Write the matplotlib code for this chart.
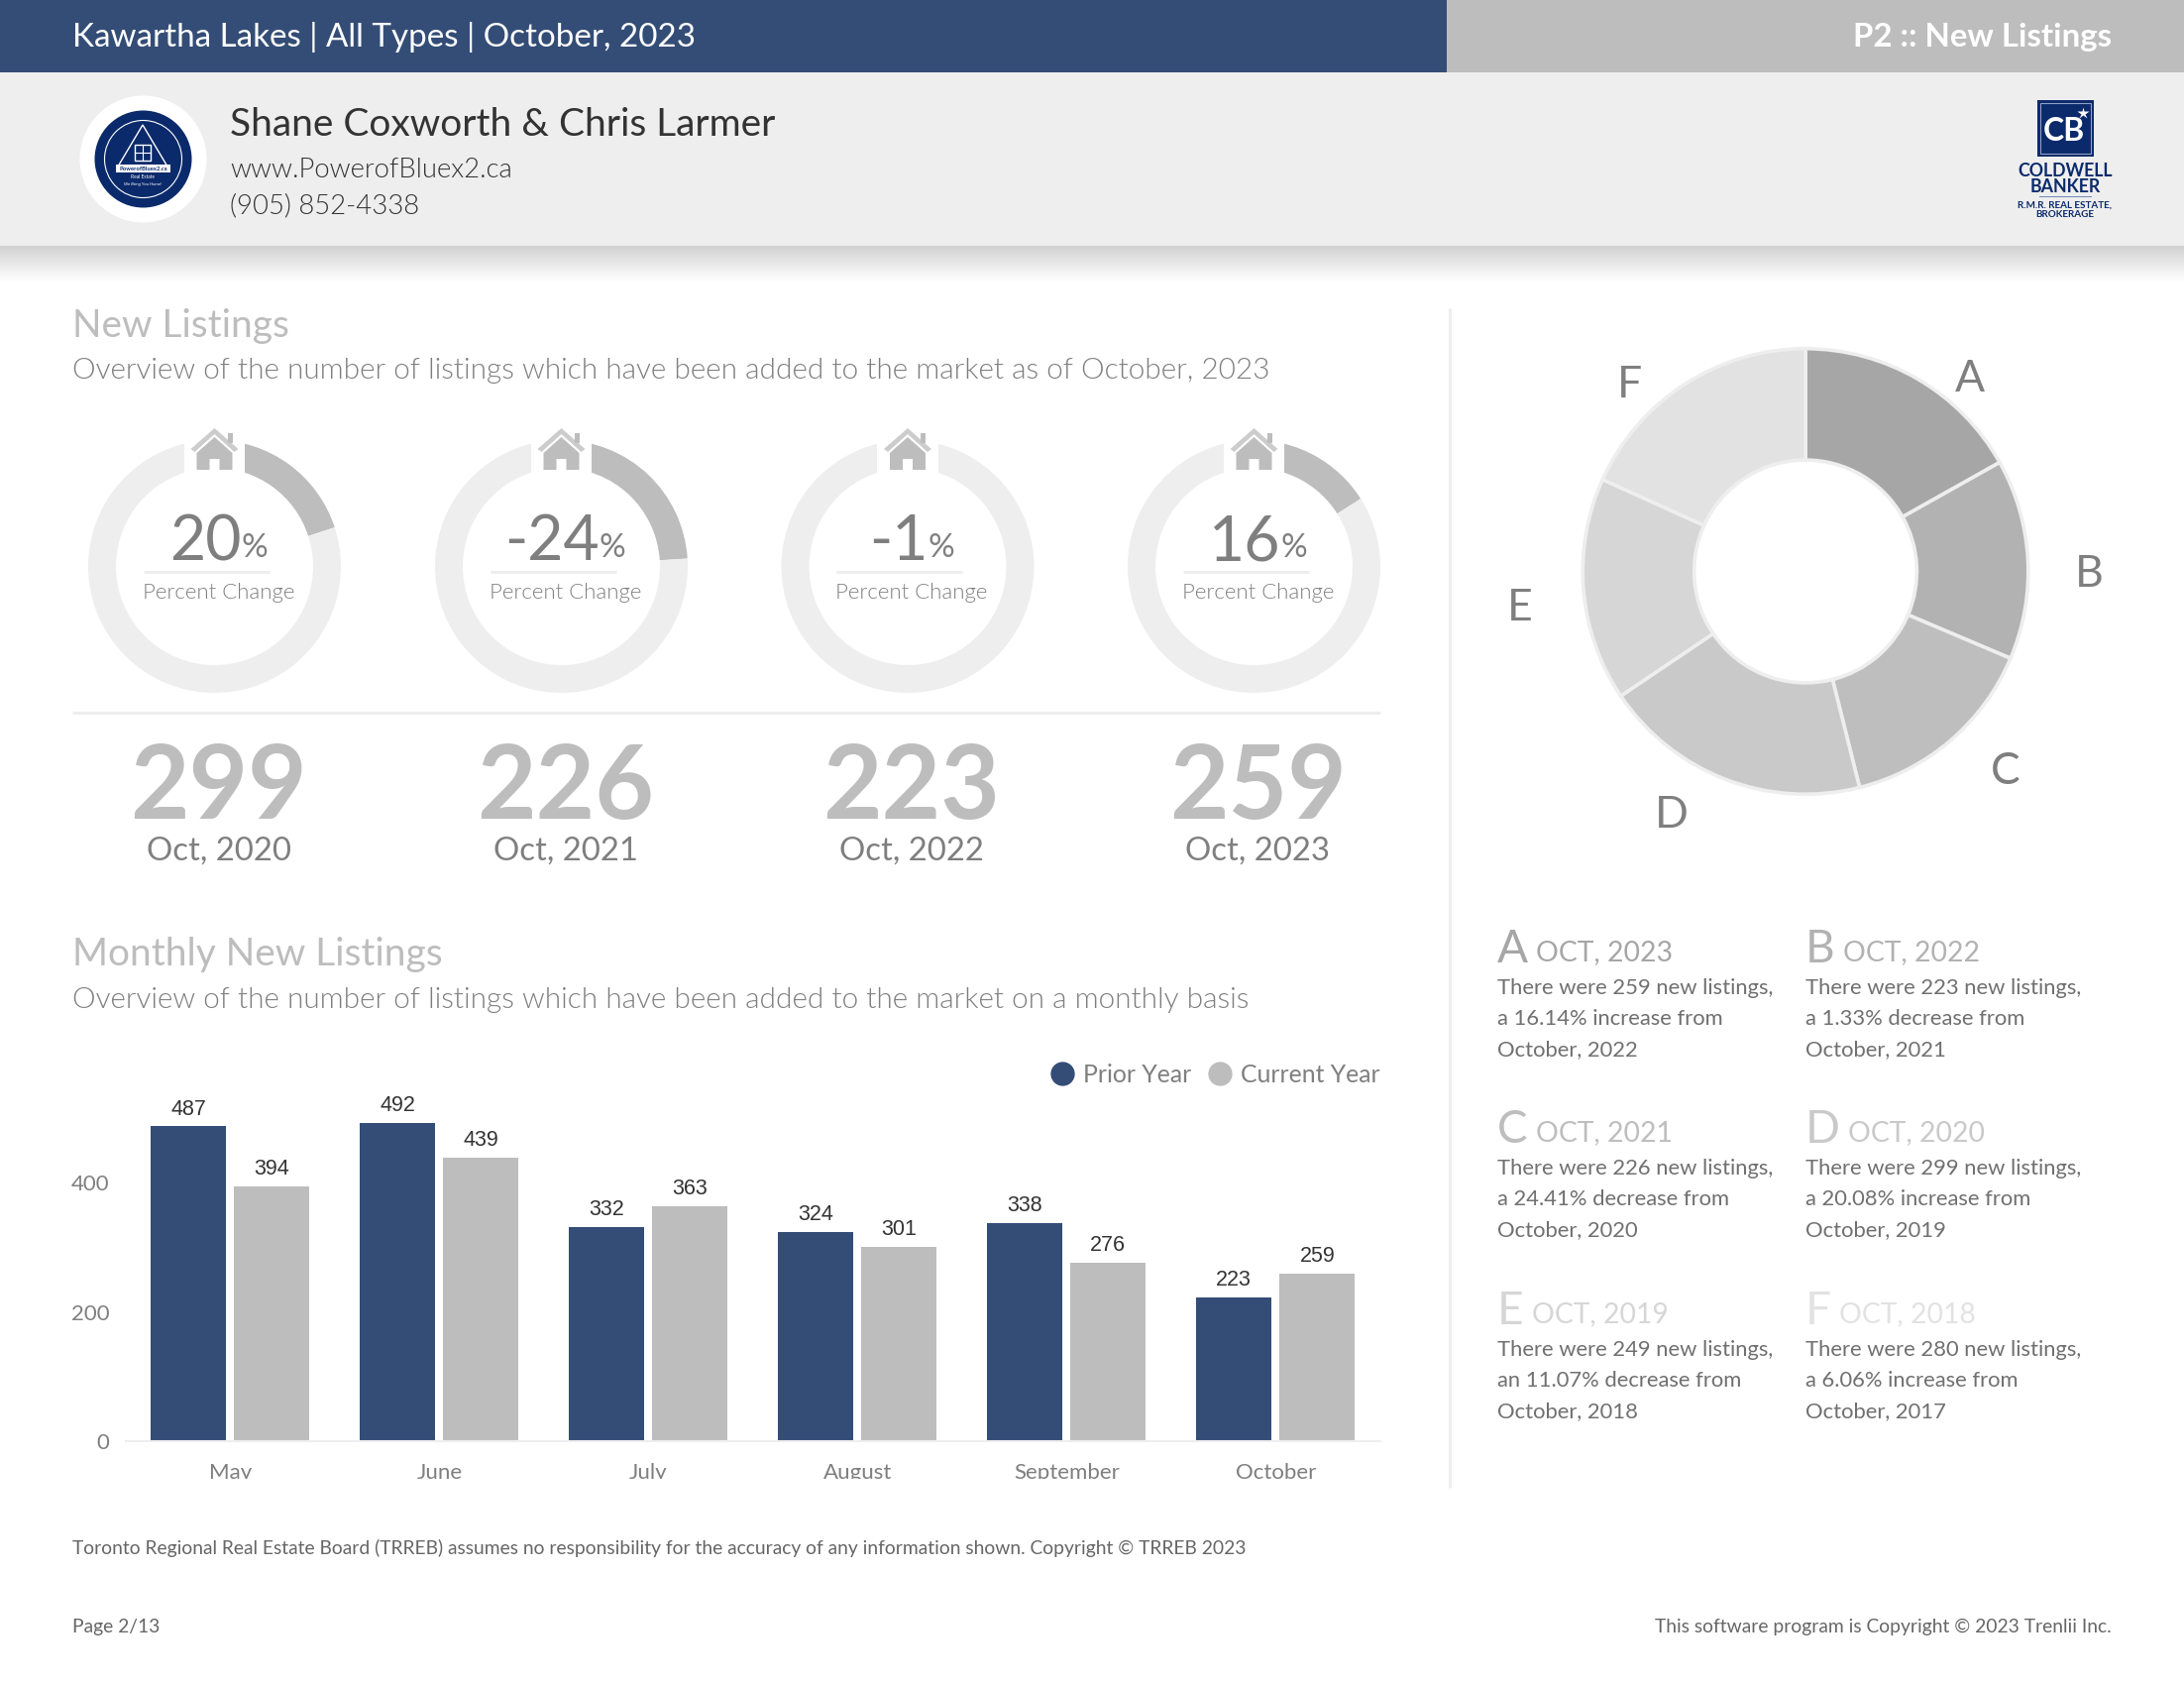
import matplotlib
matplotlib.use('Agg')
import matplotlib.pyplot as plt
import numpy as np
from matplotlib.lines import Line2D
from matplotlib.patches import Rectangle, Circle, Polygon

plt.rcParams['font.family'] = ['Lato', 'DejaVu Sans']

W, H = 2204, 1700

# Data
months = ['May', 'June', 'July', 'August', 'September', 'October']
prior_year = [487, 492, 332, 324, 338, 223]
current_year = [394, 439, 363, 301, 276, 259]

gauge_pct = [20, -24, -1, 16]
gauge_counts = [299, 226, 223, 259]
gauge_dates = ['Oct, 2020', 'Oct, 2021', 'Oct, 2022', 'Oct, 2023']

donut_letters = ['A', 'B', 'C', 'D', 'E', 'F']
donut_counts = [259, 223, 226, 299, 249, 280]
donut_colors = ['#a6a6a6', '#b2b2b2', '#bebebe', '#c9c9c9', '#d6d6d6', '#e2e2e2']
donut_dates = ['OCT, 2023', 'OCT, 2022', 'OCT, 2021', 'OCT, 2020', 'OCT, 2019', 'OCT, 2018']
donut_notes = [
    ['There were 259 new listings,', 'a 16.14% increase from', 'October, 2022'],
    ['There were 223 new listings,', 'a 1.33% decrease from', 'October, 2021'],
    ['There were 226 new listings,', 'a 24.41% decrease from', 'October, 2020'],
    ['There were 299 new listings,', 'a 20.08% increase from', 'October, 2019'],
    ['There were 249 new listings,', 'an 11.07% decrease from', 'October, 2018'],
    ['There were 280 new listings,', 'a 6.06% increase from', 'October, 2017'],
]

BLUE = '#334d76'
GREY = '#bdbdbd'
LIGHT = '#eeeeee'
TEXT = '#7f7f7f'
NAVY = '#0b2a6b'
THIN = 300  # Lato Light

fig = plt.figure(figsize=(W / 100, H / 100), dpi=100, facecolor='white')
renderer = fig.canvas.get_renderer()


def px_axes(x0, y0, x1, y1, **kw):
    # axes from pixel box, y measured from the top
    return fig.add_axes([x0 / W, 1 - y1 / H, (x1 - x0) / W, (y1 - y0) / H], **kw)


bg = px_axes(0, 0, W, H)
bg.axis('off')

# Header bands
bg.add_patch(Rectangle((0, 0), 1460, 73, fc=BLUE, ec='none'))
bg.add_patch(Rectangle((1460, 0), W - 1460, 73, fc=GREY, ec='none'))
bg.add_patch(Rectangle((0, 73), W, 175, fc=LIGHT, ec='none'))
shadow = np.linspace(0, 1, 40).reshape(-1, 1)
bg.imshow(shadow, extent=(0, W, 284, 248), cmap='gray', vmin=-4.5, vmax=1, aspect='auto', zorder=1)
bg.set_xlim(0, W)
bg.set_ylim(H, 0)

bg.text(73, 37, 'Kawartha Lakes | All Types | October, 2023', color='white', fontsize=23.9, va='center')
bg.text(2131, 37, 'P2 :: New Listings', color='white', fontsize=23.8, va='center', ha='right', fontweight='bold')

# Agent logo
bg.add_patch(Circle((144.5, 160.5), 64, fc='white', ec='none'))
bg.add_patch(Circle((144.5, 160.5), 49, fc=NAVY, ec='none'))
bg.add_patch(Circle((144.5, 160.5), 39, fc='none', ec='white', lw=0.8))
bg.add_patch(Polygon([[144, 126], [119, 168], [169, 168]], closed=True, fc='none', ec='white', lw=1))
bg.add_patch(Rectangle((136, 146), 16, 16, fc='none', ec='white', lw=1))
bg.plot([144, 144], [146, 162], color='white', lw=0.8)
bg.plot([136, 152], [154, 154], color='white', lw=0.8)
bg.add_patch(Rectangle((117, 166), 55, 8, fc='white', ec='none'))
bg.text(144.5, 170, 'PowerofBluex2.ca', fontsize=4.2, color=NAVY, ha='center', va='center', fontweight='bold')
bg.text(144.5, 178, 'Real Estate', fontsize=3.5, color='white', ha='center', va='center')
bg.text(144.5, 186, 'We Bring You Home!', fontsize=3.2, color='white', ha='center', va='center', style='italic')

bg.text(232, 126, 'Shane Coxworth & Chris Larmer', color='#333333', fontsize=28, va='center')
bg.text(232, 171, 'www.PowerofBluex2.ca', color='#333333', fontsize=19.8, va='center', fontweight=THIN)
bg.text(232, 208, '(905) 852-4338', color='#333333', fontsize=19.8, va='center', fontweight=THIN)

# Brokerage logo
bg.add_patch(Rectangle((2056, 101), 57, 57, fc=NAVY, ec='none'))
bg.add_patch(Rectangle((2059, 104), 51, 51, fc='none', ec='#8fa0c4', lw=0.8))
bg.text(2083, 132, 'CB', color='white', fontsize=23, ha='center', va='center', fontweight='bold')
bg.plot([2102], [114], marker='*', ms=9, color='white', mec='none')
bg.text(2084, 172, 'COLDWELL', color=NAVY, fontsize=12.8, ha='center', va='center', fontweight='bold')
bg.text(2084, 188, 'BANKER', color=NAVY, fontsize=12.8, ha='center', va='center', fontweight='bold')
bg.plot([2058, 2110], [198, 198], color='#6f86b8', lw=0.7)
bg.text(2084, 207, 'R.M.R. REAL ESTATE,', color=NAVY, fontsize=7.1, ha='center', va='center', fontweight='bold')
bg.text(2084, 216, 'BROKERAGE', color=NAVY, fontsize=7.1, ha='center', va='center', fontweight='bold')

# Section headings
bg.text(73, 329, 'New Listings', color=GREY, fontsize=28, va='center')
bg.text(73, 374, 'Overview of the number of listings which have been added to the market as of October, 2023',
        color=TEXT, fontsize=21.4, va='center', fontweight=THIN)
bg.text(73, 963, 'Monthly New Listings', color=GREY, fontsize=28, va='center')
bg.text(73, 1009, 'Overview of the number of listings which have been added to the market on a monthly basis',
        color=TEXT, fontsize=21.4, va='center', fontweight=THIN)

bg.plot([73, 1393], [719, 719], color=LIGHT, lw=2.2, solid_capstyle='butt')
bg.plot([1462.5, 1462.5], [311, 1501], color=LIGHT, lw=2.2, solid_capstyle='butt')

# Gauges
gauge_x = [216.5, 566.5, 916, 1265.5]
gauge_y = 571.5
gauge_r = 127.5
for cx, pct, count, date in zip(gauge_x, gauge_pct, gauge_counts, gauge_dates):
    gax = px_axes(cx - gauge_r, gauge_y - gauge_r, cx + gauge_r, gauge_y + gauge_r)
    gax.pie([abs(pct), 100 - abs(pct)], colors=[GREY, LIGHT], startangle=90, counterclock=False, radius=1,
            wedgeprops={'width': 0.22, 'edgecolor': 'none'})
    gax.set_xlim(-1, 1)
    gax.set_ylim(-1, 1)
    gax.add_patch(Rectangle((-0.243, 0.6), 0.486, 0.5, fc='white', ec='none', clip_on=False))
    gax.patch.set_alpha(0)

    # house icon
    bg.add_patch(Polygon([[cx, 432], [cx - 24, 453], [cx - 20, 456], [cx, 438], [cx + 20, 456], [cx + 24, 453]],
                         closed=True, fc='#cccccc', ec='none', zorder=5))
    bg.add_patch(Rectangle((cx + 13, 437), 5, 10, fc=GREY, ec='none', zorder=5))
    bg.add_patch(Polygon([[cx, 441], [cx - 18, 457], [cx - 18, 474], [cx - 5, 474], [cx - 5, 463], [cx + 5, 463],
                          [cx + 5, 474], [cx + 18, 474], [cx + 18, 457]],
                         closed=True, fc=GREY, ec='none', zorder=5))

    # number and small percent sign centred together
    num = bg.text(cx, 547, f'{pct}', color=TEXT, fontsize=45, va='center', ha='left', zorder=6)
    sign = bg.text(cx, 553, '%', color=TEXT, fontsize=24, va='center', ha='left', zorder=6)
    num_w = num.get_window_extent(renderer).width
    sign_w = sign.get_window_extent(renderer).width
    start = cx + 4 - (num_w + sign_w) / 2
    num.set_x(start)
    sign.set_x(start + num_w)

    bg.plot([cx - 72, cx + 55], [576.5, 576.5], color=LIGHT, lw=2.2, zorder=6, solid_capstyle='butt')
    bg.text(cx + 4, 598, 'Percent Change', color=TEXT, fontsize=16, va='center', ha='center',
            fontweight=THIN, zorder=6)

    bg.text(cx + 4, 796, str(count), color=GREY, fontsize=74, va='center', ha='center', fontweight='bold')
    bg.text(cx + 4, 859, date, color=TEXT, fontsize=23.7, va='center', ha='center')

# Donut
dcx, dcy, dr = 1822, 576.5, 227
dax = px_axes(dcx - dr, dcy - dr, dcx + dr, dcy + dr)
dax.pie(donut_counts, colors=donut_colors, startangle=90, counterclock=False, radius=1,
        wedgeprops={'width': 0.5, 'edgecolor': LIGHT, 'linewidth': 2.6})
dax.set_xlim(-1.01, 1.01)
dax.set_ylim(-1.01, 1.01)
dax.patch.set_alpha(0)

letter_pos = [(1988, 382), (2108, 580), (2024, 778), (1687, 822), (1534, 614), (1645, 388)]
for letter, (lx, ly) in zip(donut_letters, letter_pos):
    bg.text(lx, ly, letter, color=TEXT, fontsize=32, ha='center', va='center')

# Notes
note_x = [1511, 1822]
note_y = [958, 1140, 1323]
for i, (letter, date, note, col) in enumerate(zip(donut_letters, donut_dates, donut_notes, donut_colors)):
    x = note_x[i % 2]
    y = note_y[i // 2]
    t = bg.text(x, y, letter, color=col, fontsize=33, ha='left', va='center')
    w = t.get_window_extent(renderer).width
    bg.text(x + w + 8, y + 3, date, color=col, fontsize=20.4, ha='left', va='center')
    for j, line in enumerate(note):
        bg.text(x, y + 39 + j * 31, line, color='#707070', fontsize=15.85, ha='left', va='center')

# Bars
ax = px_axes(127, 1090.5, 1393, 1454)
xs = np.arange(len(months))
ax.bar(xs - 0.2, prior_year, 0.36, color=BLUE, label='Prior Year')
ax.bar(xs + 0.198, current_year, 0.36, color=GREY, label='Current Year')
ax.set_xlim(-0.5, 5.5)
ax.set_ylim(0, 363.5 / 0.652)
for x, v in zip(xs, prior_year):
    ax.annotate(str(v), (x - 0.2, v), xytext=(0, 5), textcoords='offset points', ha='center', va='bottom',
                fontsize=15.5, color='#333333', family='Liberation Sans')
for x, v in zip(xs, current_year):
    ax.annotate(str(v), (x + 0.198, v), xytext=(0, 5), textcoords='offset points', ha='center', va='bottom',
                fontsize=15.5, color='#333333', family='Liberation Sans')
ax.set_yticks([0, 200, 400])
ax.set_xticks(xs)
ax.set_xticklabels(months)
ax.tick_params(axis='both', length=0, labelcolor=TEXT, labelsize=16)
ax.tick_params(axis='x', pad=16)
ax.tick_params(axis='y', pad=12)
for side in ['top', 'right', 'left']:
    ax.spines[side].set_visible(False)
ax.spines['bottom'].set_color(LIGHT)
ax.spines['bottom'].set_linewidth(1.5)
ax.patch.set_alpha(0)

handles = [Line2D([], [], marker='o', ls='none', ms=16.5, color=BLUE),
           Line2D([], [], marker='o', ls='none', ms=16.5, color=GREY)]
leg = bg.legend(handles, ['Prior Year', 'Current Year'], ncol=2, frameon=False, fontsize=17.8, labelcolor=TEXT,
                loc='center right', bbox_to_anchor=(1393 / W, 1 - 1084 / H), borderaxespad=0, borderpad=0,
                handletextpad=0.35, columnspacing=0.68, handlelength=1)

# the reference cuts the month labels off at the bottom
bg.add_patch(Rectangle((100, 1492), 1340, 30, fc='white', ec='none', zorder=20))
ax.set_zorder(1)
bg.set_zorder(2)
bg.patch.set_alpha(0)

# Footer
bg.text(73, 1562, 'Toronto Regional Real Estate Board (TRREB) assumes no responsibility for the accuracy of any information shown. Copyright © TRREB 2023',
        color='#666666', fontsize=13.9, va='center')
bg.text(73, 1641, 'Page 2/13', color='#666666', fontsize=13.9, va='center')
bg.text(2131, 1641, 'This software program is Copyright © 2023 Trenlii Inc.', color='#666666', fontsize=13.9, va='center', ha='right')

fig.savefig('out.png', dpi=100)
